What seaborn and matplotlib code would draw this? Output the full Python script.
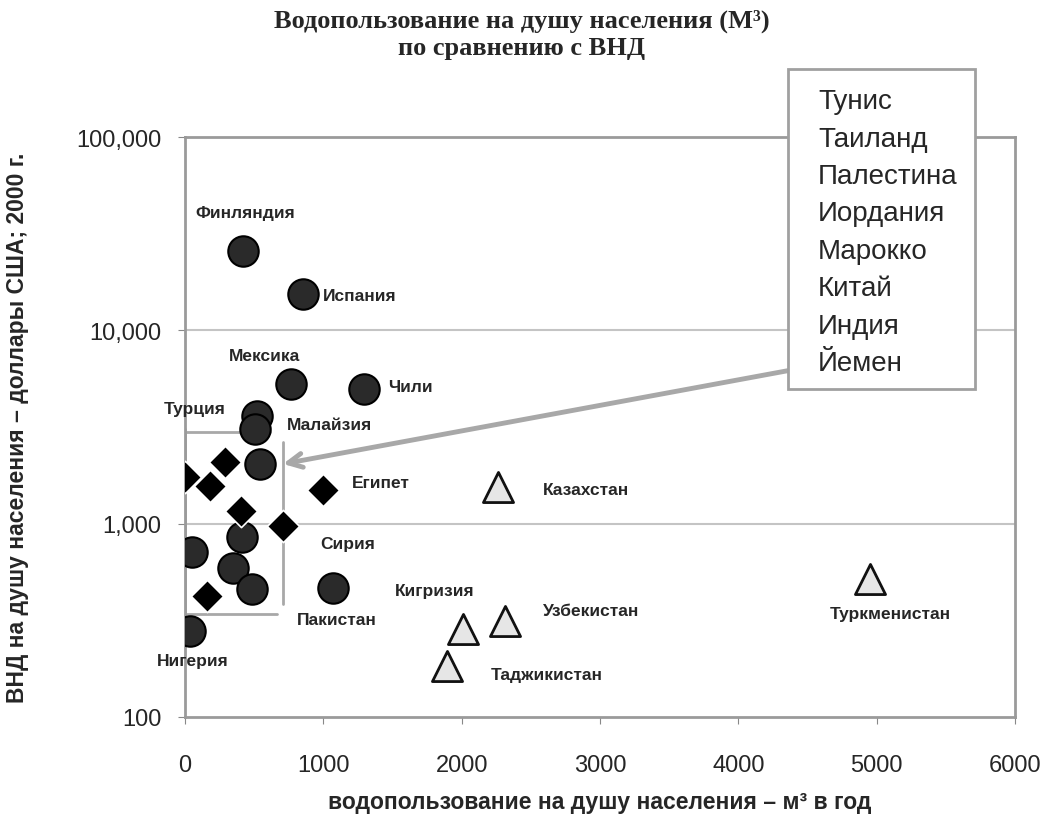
import numpy as np
import pandas as pd
import seaborn as sns
import matplotlib.pyplot as plt

# water use per capita (m3/year) vs GNI per capita (USD, 2000)
circle_x = [419, 853, 766, 1294, 520, 506, 542, 412, 51, 347, 484, 1070, 36]
circle_y = [25700, 15400, 5270, 5000, 3600, 3080, 2030, 853, 713, 589, 459, 462, 278]

diamond_x = [0, 289, 181, 405, 709, 159, 998]
diamond_y = [1740, 2080, 1570, 1160, 972, 422, 1490]

triangle_x = [2263, 2314, 2010, 1894, 4953]
triangle_y = [1545, 313, 285, 183, 517]

label_names = ['Финляндия', 'Испания', 'Мексика', 'Чили', 'Турция', 'Малайзия',
               'Египет', 'Сирия', 'Пакистан', 'Нигерия', 'Кигризия', 'Казахстан',
               'Узбекистан', 'Таджикистан', 'Туркменистан']
label_x = [434, 998, 578, 1468, 72, 737, 1207, 976, 810, 58, 1518, 2588, 2588, 2212, 5097]
label_y = [40900, 15200, 7370, 5150, 3920, 3270, 1640, 794, 321, 197, 449, 1510, 357, 165, 345]
label_ha = ['center', 'left', 'center', 'left', 'center', 'left', 'left', 'left',
            'left', 'center', 'left', 'left', 'left', 'left', 'center']

box_names = ['Тунис', 'Таиланд', 'Палестина', 'Иордания', 'Марокко', 'Китай', 'Индия', 'Йемен']

x_ticks = [0, 1000, 2000, 3000, 4000, 5000, 6000]
y_ticks = [100, 1000, 10000, 100000]
y_tick_labels = ['100', '1,000', '10,000', '100,000']

sns.set_style('white')
plt.rcParams['font.family'] = ['Liberation Sans', 'DejaVu Sans']

fig = plt.figure(figsize=(10.49, 8.37), dpi=100)
ax = fig.add_axes([0.1764, 0.1422, 0.7912, 0.6929])

circles = pd.DataFrame({'x': circle_x, 'y': circle_y})
diamonds = pd.DataFrame({'x': diamond_x, 'y': diamond_y})
triangles = pd.DataFrame({'x': triangle_x, 'y': triangle_y})

sns.scatterplot(data=circles, x='x', y='y', ax=ax, marker='o', s=480,
                color='#2a2a2a', edgecolor='#000000', linewidth=1.5, zorder=4)
sns.scatterplot(data=diamonds, x='x', y='y', ax=ax, marker='D', s=270,
                color='#000000', edgecolor='white', linewidth=1.2, zorder=4)
sns.scatterplot(data=triangles, x='x', y='y', ax=ax, marker='^', s=470,
                color='#e6e6e6', edgecolor='#111111', linewidth=2, zorder=4)

ax.set_yscale('log')
ax.set_xlim(0, 6000)
ax.set_ylim(100, 100000)
ax.set_xticks(x_ticks)
ax.set_xticklabels([str(t) for t in x_ticks])
ax.set_yticks(y_ticks)
ax.set_yticklabels(y_tick_labels)
ax.minorticks_off()
ax.tick_params(axis='x', labelsize=17, pad=22, length=5, color='#888888', direction='out', bottom=True)
ax.tick_params(axis='y', labelsize=17, pad=12, length=5, color='#888888', direction='out', left=True)

for v in [1000, 10000]:
    ax.axhline(v, color='#c4c4c4', lw=1.5, zorder=1)
for side in ax.spines.values():
    side.set_color('#9a9a9a')
    side.set_linewidth(2)

# gray bracket around the cluster
ax.plot([0, 615], [2980, 2980], color='#a8a8a8', lw=2, zorder=2)
ax.plot([0, 0], [3080, 341], color='#a8a8a8', lw=2, zorder=2)
ax.plot([0, 665], [341, 341], color='#a8a8a8', lw=2, zorder=2)
ax.plot([708, 708], [2640, 384], color='#a8a8a8', lw=2, zorder=2)

for name, lx, ly, ha in zip(label_names, label_x, label_y, label_ha):
    ax.text(lx, ly, name, ha=ha, va='center', fontsize=12.5, fontweight='bold', zorder=5)

ax.set_xlabel('водопользование на душу населения – м³ в год', fontsize=16.5,
              fontweight='bold', labelpad=10)
ax.set_ylabel('ВНД на душу населения – доллары США; 2000 г.', fontsize=16.5,
              fontweight='bold', labelpad=34)

fig.text(0.497, 0.975, 'Водопользование на душу населения (М³)', ha='center', va='center',
         fontsize=19, fontweight='bold', family=['Liberation Serif', 'DejaVu Serif'])
fig.text(0.497, 0.942, 'по сравнению с ВНД', ha='center', va='center',
         fontsize=19, fontweight='bold', family=['Liberation Serif', 'DejaVu Serif'])

# list box with arrow
box = plt.Rectangle((0.751, 0.534), 0.178, 0.382, transform=fig.transFigure,
                    facecolor='white', edgecolor='#a0a0a0', lw=2, zorder=6)
fig.add_artist(box)
for i, name in enumerate(box_names):
    fig.text(0.78, 0.878 - i * 0.0447, name, ha='left', va='center', fontsize=20, zorder=7)

ax.annotate('', xy=(708, 2037), xycoords='data', xytext=(0.76, 0.558),
            textcoords='figure fraction',
            arrowprops=dict(arrowstyle='->,head_length=1.0,head_width=0.5',
                            color='#a8a8a8', lw=3.5, shrinkA=0, shrinkB=0), zorder=5)

fig.savefig('out.png', dpi=100)
